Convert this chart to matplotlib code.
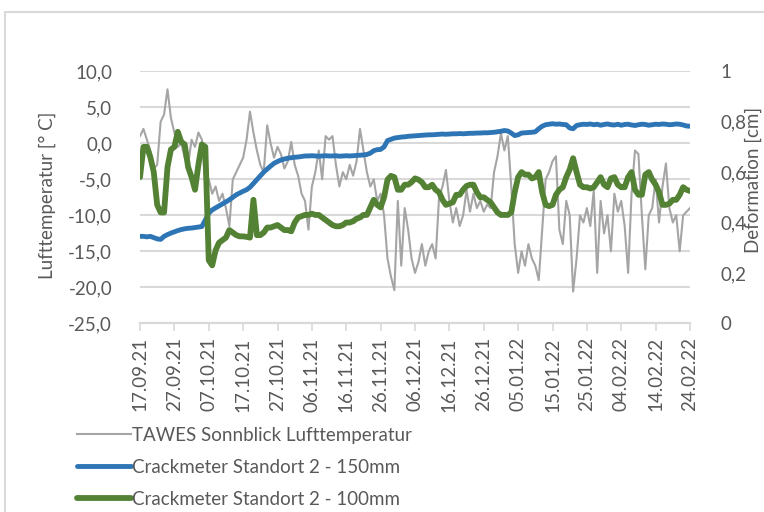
import matplotlib.pyplot as plt
import pandas as pd
from matplotlib.patches import Rectangle

# daily values, 17.09.2021 - 24.02.2022
start_date = "2021-09-17"

air_temp = [
    1.0, 2.0, 0.5, -1.0, -3.5, -3.0, 3.0, 4.0, 7.5, 3.5,
    1.5, -0.5, 0.0, -2.0, -3.0, 0.5, -0.5, 1.5, 0.5, -6.0,
    -5.0, -7.0, -6.0, -8.0, -7.0, -9.0, -11.5, -5.0, -4.0, -3.0,
    -2.0, 0.5, 4.4, 1.5, -1.0, -3.0, -4.0, 2.5, 0.0, -2.0,
    -0.5, -1.5, -3.5, -2.5, 0.2, -3.0, -4.5, -7.0, -8.0, -12.0,
    -6.0, -4.0, -1.0, -5.0, 1.0, 0.5, 1.0, -3.0, -6.0, -4.0,
    -5.0, -3.0, -4.5, -2.5, 2.0, -1.0, -4.0, -6.0, -5.0, -8.0,
    -7.0, -10.0, -16.0, -18.5, -20.4, -8.0, -17.0, -9.0, -12.0, -16.0,
    -18.0, -16.5, -14.0, -17.0, -15.0, -14.0, -16.0, -7.5, -6.0, -3.7,
    -8.0, -11.0, -9.0, -11.5, -10.0, -6.5, -9.5, -7.0, -9.0, -8.0,
    -9.5, -8.5, -9.0, -4.0, -1.8, 1.4, -1.0, 1.0, -6.0, -14.0,
    -18.0, -15.0, -17.0, -14.0, -16.0, -17.0, -19.0, -12.0, -5.0, -4.0,
    -2.5, -1.8, -12.0, -14.0, -8.0, -10.0, -20.6, -16.0, -10.0, -11.0,
    -9.0, -11.5, -6.5, -18.0, -8.0, -12.5, -10.0, -15.0, -7.0, -9.5,
    -8.0, -11.5, -18.0, -7.0, -1.0, -1.5, -10.0, -17.5, -10.0, -9.0,
    -5.0, -11.0, -6.0, -2.8, -9.0, -11.0, -10.0, -15.0, -10.0, -9.5,
    -9.0,
]

crack_150 = [
    0.345, 0.345, 0.343, 0.345, 0.340, 0.335, 0.333, 0.345, 0.352, 0.358,
    0.363, 0.368, 0.372, 0.375, 0.377, 0.378, 0.380, 0.382, 0.384, 0.410,
    0.437, 0.450, 0.458, 0.466, 0.474, 0.482, 0.490, 0.500, 0.510, 0.517,
    0.524, 0.530, 0.540, 0.555, 0.570, 0.585, 0.600, 0.612, 0.624, 0.635,
    0.642, 0.648, 0.652, 0.655, 0.657, 0.659, 0.660, 0.662, 0.664, 0.664,
    0.665, 0.664, 0.663, 0.664, 0.665, 0.664, 0.664, 0.665, 0.663, 0.664,
    0.665, 0.664, 0.665, 0.666, 0.667, 0.668, 0.670, 0.675, 0.685, 0.689,
    0.690, 0.700, 0.725, 0.730, 0.735, 0.737, 0.739, 0.740, 0.742, 0.743,
    0.744, 0.745, 0.746, 0.747, 0.748, 0.748, 0.749, 0.750, 0.751, 0.750,
    0.751, 0.752, 0.752, 0.753, 0.752, 0.753, 0.754, 0.754, 0.755, 0.755,
    0.756, 0.756, 0.757, 0.758, 0.760, 0.762, 0.765, 0.763, 0.755, 0.745,
    0.748, 0.755, 0.756, 0.757, 0.758, 0.760, 0.772, 0.782, 0.788, 0.790,
    0.792, 0.790, 0.791, 0.789, 0.788, 0.775, 0.772, 0.785, 0.788, 0.790,
    0.789, 0.791, 0.788, 0.790, 0.786, 0.789, 0.791, 0.788, 0.787, 0.790,
    0.786, 0.789, 0.790, 0.787, 0.785, 0.788, 0.790, 0.789, 0.786, 0.788,
    0.790, 0.789, 0.791, 0.790, 0.788, 0.789, 0.791, 0.790, 0.787, 0.783,
    0.782,
]

crack_100 = [
    0.58, 0.70, 0.70, 0.66, 0.60, 0.47, 0.44, 0.44, 0.62, 0.69,
    0.70, 0.76, 0.72, 0.71, 0.62, 0.58, 0.53, 0.63, 0.71, 0.70,
    0.25, 0.23, 0.29, 0.32, 0.33, 0.34, 0.37, 0.36, 0.35, 0.345,
    0.345, 0.343, 0.34, 0.49, 0.35, 0.35, 0.36, 0.38, 0.38, 0.385,
    0.39, 0.38, 0.37, 0.37, 0.365, 0.40, 0.42, 0.425, 0.43, 0.43,
    0.435, 0.43, 0.43, 0.42, 0.41, 0.40, 0.39, 0.385, 0.385, 0.39,
    0.40, 0.40, 0.405, 0.415, 0.42, 0.43, 0.43, 0.46, 0.49, 0.47,
    0.46, 0.50, 0.57, 0.585, 0.58, 0.53, 0.53, 0.55, 0.55, 0.56,
    0.575, 0.57, 0.56, 0.54, 0.54, 0.55, 0.53, 0.52, 0.49, 0.47,
    0.475, 0.48, 0.51, 0.51, 0.53, 0.545, 0.55, 0.55, 0.52, 0.50,
    0.50, 0.49, 0.48, 0.46, 0.44, 0.43, 0.43, 0.43, 0.44, 0.52,
    0.58, 0.60, 0.59, 0.59, 0.575, 0.58, 0.60, 0.52, 0.47, 0.465,
    0.47, 0.51, 0.53, 0.54, 0.58, 0.61, 0.655, 0.60, 0.55, 0.54,
    0.54, 0.535, 0.54, 0.56, 0.58, 0.55, 0.54, 0.575, 0.58, 0.55,
    0.54, 0.54, 0.58, 0.60, 0.53, 0.51, 0.51, 0.59, 0.60, 0.57,
    0.55, 0.52, 0.47, 0.47, 0.475, 0.49, 0.49, 0.51, 0.54, 0.53,
    0.525,
]

temp_ticks = [10, 5, 0, -5, -10, -15, -20, -25]
deform_ticks = [0, 0.2, 0.4, 0.6, 0.8, 1]

series_labels = [
    "TAWES Sonnblick Lufttemperatur",
    "Crackmeter Standort 2 - 150mm",
    "Crackmeter Standort 2 - 100mm",
]

dates = pd.date_range(start_date, periods=len(air_temp), freq="D")
tick_dates = dates[::10]

TEXT = "#595959"
GRID = "#d9d9d9"
FONT = "Lato"
FS = 13.5

plt.rcParams["font.family"] = [FONT, "DejaVu Sans"]

fig = plt.figure(figsize=(7.64, 5.12), dpi=100)
fig.patches.append(Rectangle((5 / 764, -0.1), 1.2, 1 - 12 / 512 + 0.1,
                             transform=fig.transFigure, fill=False,
                             edgecolor=GRID, linewidth=1.5))

ax = fig.add_axes([140 / 764, 1 - 323.3 / 512, 550 / 764, 252 / 512])
ax2 = ax.twinx()

l1, = ax.plot(dates, air_temp, color="#a5a5a5", linewidth=1.5, zorder=3)
l2, = ax2.plot(dates, crack_150, color="#2e75b6", linewidth=3.5,
               solid_capstyle="round")
l3, = ax2.plot(dates, crack_100, color="#548235", linewidth=4.2,
               solid_capstyle="round")

ax.set_xlim(dates[0], dates[-1])
ax.set_ylim(-25, 10)
ax2.set_ylim(0, 1)

ax.set_yticks(temp_ticks)
ax.set_yticklabels([f"{v:.1f}".replace(".", ",") for v in temp_ticks])
ax2.set_yticks(deform_ticks)
ax2.set_yticklabels([f"{v:g}".replace(".", ",") for v in deform_ticks])

ax.set_xticks(tick_dates)
ax.set_xticklabels([d.strftime("%d.%m.%y") for d in tick_dates], rotation=90)

ax.grid(axis="y", color=GRID, linewidth=1.5)
ax.set_axisbelow(True)
ax.tick_params(axis="y", length=0, pad=20, labelsize=FS, labelcolor=TEXT)
ax2.tick_params(axis="y", length=0, pad=22, labelsize=FS, labelcolor=TEXT)
ax.tick_params(axis="x", length=6, width=1.2, color=GRID, pad=4,
               labelsize=FS, labelcolor=TEXT)

for a in (ax, ax2):
    for side in ("top", "left", "right"):
        a.spines[side].set_visible(False)
    a.spines["bottom"].set_color(GRID)
    a.spines["bottom"].set_linewidth(1.5)
    a.patch.set_visible(False)
ax.set_zorder(1)
ax2.set_zorder(2)

fig.text(47 / 764, 1 - 195 / 512, "Lufttemperatur [° C]", rotation=90,
         ha="center", va="center", fontsize=FS, color=TEXT)
fig.text(753 / 764, 1 - 180 / 512, "Deformation [cm]", rotation=90,
         ha="center", va="center", fontsize=FS, color=TEXT)

fig.legend([l1, l2, l3], series_labels, loc="upper left",
           bbox_to_anchor=(77 / 764, 1 - 427 / 512), frameon=False,
           fontsize=FS, labelcolor=TEXT, handlelength=2.9,
           handletextpad=0.05, labelspacing=0.8, borderpad=0,
           borderaxespad=0)

fig.savefig("out.png", dpi=100)
